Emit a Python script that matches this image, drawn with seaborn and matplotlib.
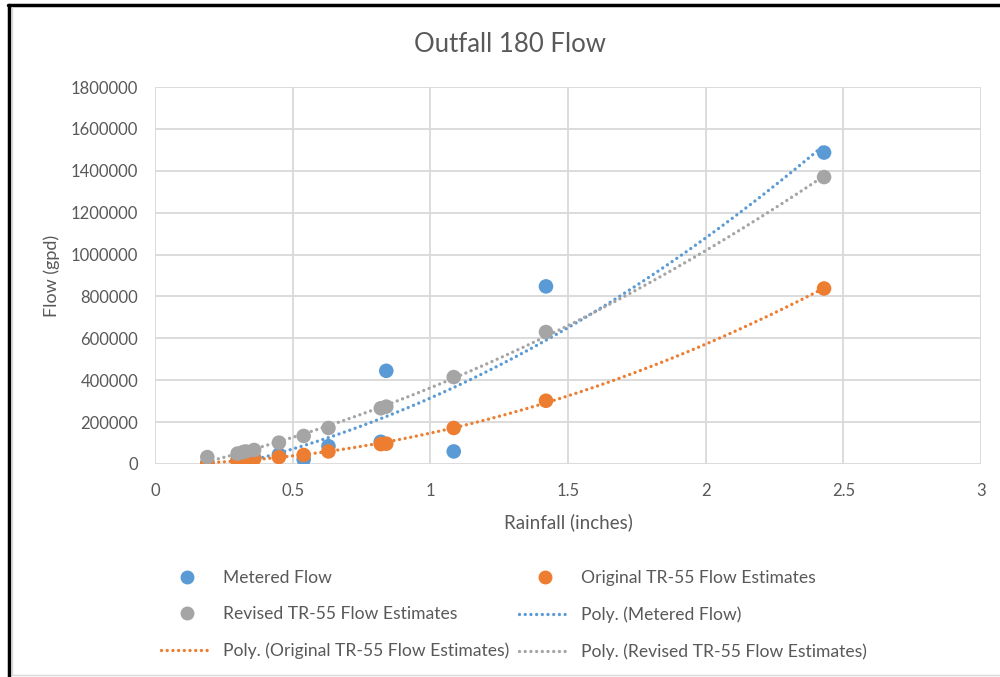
import numpy as np
import pandas as pd
import matplotlib
matplotlib.use("Agg")
import matplotlib.pyplot as plt
from matplotlib.lines import Line2D
import seaborn as sns

# ---- data ----
rainfall = [0.19, 0.30, 0.32, 0.33, 0.36, 0.45, 0.54, 0.63, 0.82, 0.84, 1.085, 1.42, 2.43]
metered = [5000, 20000, 25000, 15000, 30000, 45000, 22000, 85000, 106000, 445000, 60000, 848000, 1487000]
original = [3000, 15000, 20000, 18000, 25000, 33000, 43000, 60000, 95000, 97000, 172000, 302000, 838000]
revised = [33000, 50000, 57000, 60000, 67000, 102000, 134000, 172000, 266000, 274000, 415000, 630000, 1370000]

series_names = ["Metered Flow", "Original TR-55 Flow Estimates", "Revised TR-55 Flow Estimates"]
colors = ["#5B9BD5", "#ED7D31", "#A5A5A5"]
x_ticks = [0, 0.5, 1, 1.5, 2, 2.5, 3]
x_tick_labels = ["0", "0.5", "1", "1.5", "2", "2.5", "3"]
y_ticks = list(range(0, 1800001, 200000))
y_tick_labels = [str(v) for v in y_ticks]

title = "Outfall 180 Flow"
x_label = "Rainfall (inches)"
y_label = "Flow (gpd)"

df = pd.DataFrame({
    "Rainfall": rainfall * 3,
    "Flow": metered + original + revised,
    "Series": [series_names[0]] * len(rainfall) + [series_names[1]] * len(rainfall) + [series_names[2]] * len(rainfall),
})

sns.set_style("white")
plt.rcParams["font.family"] = ["Lato", "DejaVu Sans"]
text_color = "#595959"
grid_color = "#D9D9D9"
DOT = (0, (0.01, 1.7))

fig = plt.figure(figsize=(10, 6.77), dpi=100)
ax = fig.add_axes([0.155, 1 - 464 / 677, 0.981 - 0.155, (464 - 87) / 677])

# trend lines (2nd order polynomial fits, like Excel "Poly." trendlines)
xs = np.linspace(min(rainfall), max(rainfall), 200)
for name, vals, c in zip(series_names, [metered, original, revised], colors):
    coef = np.polyfit(rainfall, vals, 2)
    sns.lineplot(x=xs, y=np.polyval(coef, xs), ax=ax, color=c, lw=2.4,
                 linestyle=DOT, dash_capstyle="round", zorder=3)

sns.scatterplot(data=df, x="Rainfall", y="Flow", hue="Series", palette=colors,
                s=110, edgecolor="none", ax=ax, zorder=4, legend=False)

ax.set_xlim(0, 3)
ax.set_ylim(0, 1800000)
ax.set_xticks(x_ticks)
ax.set_xticklabels(x_tick_labels)
ax.set_yticks(y_ticks)
ax.set_yticklabels(y_tick_labels)
ax.grid(True, color=grid_color, lw=1.3)
ax.set_axisbelow(True)
for s in ax.spines.values():
    s.set_visible(False)
ax.tick_params(axis="both", length=0, labelsize=12, colors=text_color, pad=12)
ax.tick_params(axis="x", pad=14)
ax.set_xlabel(x_label, fontsize=13.5, color=text_color, labelpad=10)
ax.set_ylabel(y_label, fontsize=13, color=text_color, labelpad=8)

fig.text(0.51, 1 - 45 / 677, title, ha="center", va="center", fontsize=18.5, color=text_color)

# legend (column-major order to match Excel's row layout)
def mk(c):
    return Line2D([], [], marker="o", color=c, linestyle="none", markersize=9)

def ln(c):
    return Line2D([], [], color=c, lw=2.4, linestyle=DOT, dash_capstyle="round")

handles = [mk(colors[0]), mk(colors[2]), ln(colors[1]),
           mk(colors[1]), ln(colors[0]), ln(colors[2])]
labels = ["Metered Flow", "Revised TR-55 Flow Estimates", "Poly. (Original TR-55 Flow Estimates)",
          "Original TR-55 Flow Estimates", "Poly. (Metered Flow)", "Poly. (Revised TR-55 Flow Estimates)"]
leg = fig.legend(handles, labels, ncol=2, loc="center", bbox_to_anchor=(0.514, 1 - 615 / 677),
                 frameon=False, fontsize=12.6, labelcolor=text_color, handlelength=2.9,
                 columnspacing=0.6, labelspacing=1.15, handletextpad=0.6)

# outer frame
fig.add_artist(Line2D([0.009, 0.009], [0, 0.993], transform=fig.transFigure, color="black", lw=2.5))
fig.add_artist(Line2D([0.008, 1.0], [0.993, 0.993], transform=fig.transFigure, color="black", lw=2.5))
fig.add_artist(Line2D([0.0115, 0.0115], [0.003, 0.989], transform=fig.transFigure, color="#D9D9D9", lw=1))
fig.add_artist(Line2D([0.0115, 1.0], [0.003, 0.003], transform=fig.transFigure, color="#D9D9D9", lw=1))

fig.savefig("out.png", dpi=100)
